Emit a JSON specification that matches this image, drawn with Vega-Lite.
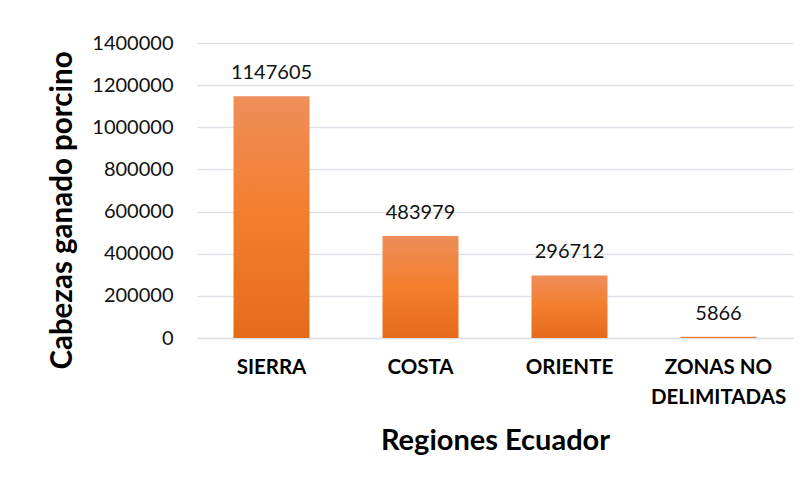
{
  "$schema": "https://vega.github.io/schema/vega-lite/v6.json",
  "autosize": "none",
  "padding": {"left": 197, "top": 43, "right": 15, "bottom": 146},
  "width": 596,
  "height": 295,
  "background": "white",
  "config": {
    "view": {"stroke": null},
    "font": "Lato"
  },
  "data": {
    "values": [
      {"region": "SIERRA", "cabezas": 1147605},
      {"region": "COSTA", "cabezas": 483979},
      {"region": "ORIENTE", "cabezas": 296712},
      {"region": "ZONAS NO DELIMITADAS", "cabezas": 5866}
    ]
  },
  "encoding": {
    "x": {
      "field": "region",
      "type": "nominal",
      "sort": null,
      "scale": {"paddingInner": 0.49, "paddingOuter": 0.245},
      "axis": {
        "title": "Regiones Ecuador",
        "titleFont": "Lato",
        "titleFontSize": 29,
        "titleFontWeight": "bold",
        "titleColor": "#000000",
        "titlePadding": 19,
        "labelAngle": 0,
        "labelFont": "Lato",
        "labelFontSize": 20.5,
        "labelFontWeight": "bold",
        "labelColor": "#000000",
        "labelPadding": 19,
        "labelLineHeight": 30,
        "labelExpr": "datum.value == 'ZONAS NO DELIMITADAS' ? ['ZONAS NO', 'DELIMITADAS'] : datum.value",
        "ticks": false,
        "domain": true,
        "domainColor": "#DDE1E7",
        "domainWidth": 1.5
      }
    },
    "y": {
      "field": "cabezas",
      "type": "quantitative",
      "scale": {"domain": [0, 1400000], "nice": false},
      "axis": {
        "title": "Cabezas ganado porcino",
        "titleFont": "Lato",
        "titleFontSize": 29.5,
        "titleFontWeight": "bold",
        "titleColor": "#000000",
        "titleAngle": -90,
        "titleAlign": "center",
        "titleBaseline": "middle",
        "titleX": -135,
        "titleY": 167,
        "values": [0, 200000, 400000, 600000, 800000, 1000000, 1200000, 1400000],
        "format": "d",
        "labelFont": "Lato",
        "labelFontSize": 20,
        "labelColor": "#111111",
        "labelPadding": 24,
        "ticks": false,
        "domain": false,
        "grid": true,
        "gridColor": "#DDE1E7",
        "gridWidth": 1.5
      }
    }
  },
  "layer": [
    {
      "mark": {
        "type": "bar",
        "color": {
          "gradient": "linear",
          "x1": 0, "y1": 0, "x2": 0, "y2": 1,
          "stops": [
            {"offset": 0, "color": "#EF8E5A"},
            {"offset": 0.5, "color": "#F37E2C"},
            {"offset": 1, "color": "#E56B1A"}
          ]
        }
      }
    },
    {
      "mark": {
        "type": "text",
        "baseline": "alphabetic",
        "dy": -17,
        "font": "Lato",
        "fontSize": 20,
        "color": "#111111"
      },
      "encoding": {
        "text": {"field": "cabezas", "type": "quantitative", "format": "d"}
      }
    }
  ]
}
